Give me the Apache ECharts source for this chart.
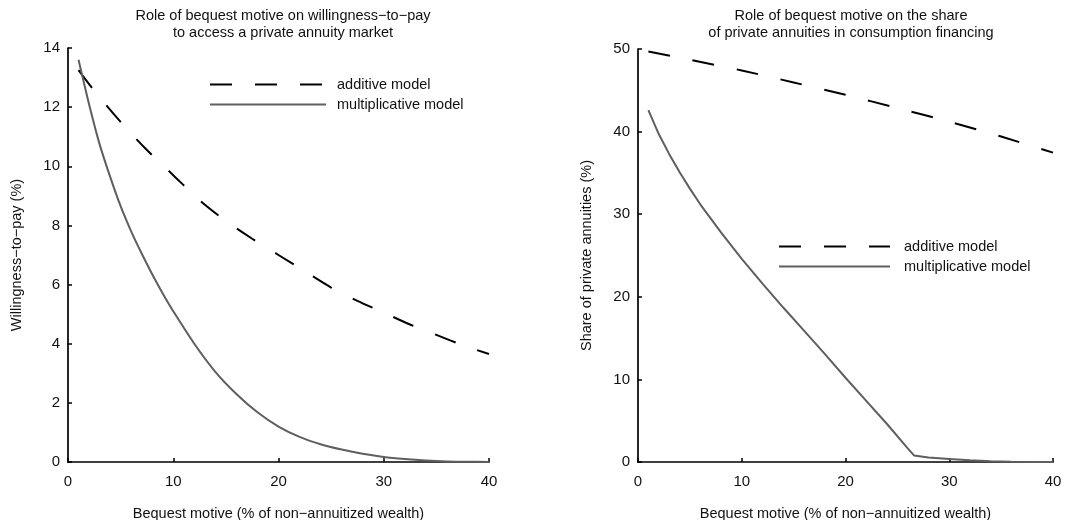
<!DOCTYPE html>
<html>
<head>
<meta charset="utf-8">
<script src="https://cdn.jsdelivr.net/npm/echarts@6/dist/echarts.min.js"></script>
<style>
html,body{margin:0;padding:0;background:#fff;}
#chart{width:1087px;height:520px;}
</style>
</head>
<body>
<div id="chart"></div>
<script>
// Left panel: willingness-to-pay (%)
var leftAddX  = [1, 2.5, 5, 7.5, 10, 12.5, 15, 17.5, 20, 22.5, 25, 27.5, 30, 32.5, 35, 37.5, 40];
var leftAddY  = [13.25, 12.55, 11.5, 10.55, 9.7, 8.85, 8.15, 7.55, 7.0, 6.45, 5.9, 5.45, 5.05, 4.65, 4.3, 3.95, 3.65];
var leftMulX  = [1, 2, 3, 4, 5, 6, 7, 8, 9, 10, 12, 14, 16, 18, 20, 22, 24, 26, 28, 30, 32, 34, 36, 38, 40];
var leftMulY  = [13.6, 12.1, 10.75, 9.65, 8.65, 7.8, 7.05, 6.35, 5.7, 5.1, 4.0, 3.05, 2.3, 1.68, 1.2, 0.85, 0.6, 0.42, 0.28, 0.17, 0.1, 0.05, 0.02, 0.01, 0];

// Right panel: share of private annuities (%)
var rightAddX = [1, 5, 10, 15, 20, 25, 30, 35, 40];
var rightAddY = [49.7, 48.7, 47.4, 45.95, 44.45, 42.85, 41.2, 39.4, 37.45];
var rightMulX = [1, 2, 3, 4, 5, 6, 7, 8, 9, 10, 12, 14, 16, 18, 20, 22, 24, 26, 26.6, 28, 30, 32, 34, 36, 38, 40];
var rightMulY = [42.6, 39.7, 37.3, 35.1, 33.1, 31.2, 29.5, 27.8, 26.2, 24.6, 21.6, 18.7, 15.9, 13.1, 10.2, 7.4, 4.6, 1.65, 0.8, 0.55, 0.35, 0.2, 0.1, 0.03, 0.01, 0];

var seriesNames = ['additive model', 'multiplicative model'];
var titles = [
  'Role of bequest motive on willingness\u2212to\u2212pay\nto access a private annuity market',
  'Role of bequest motive on the share\nof private annuities in consumption financing'
];
var xName = 'Bequest motive (% of non\u2212annuitized wealth)';
var yNames = ['Willingness\u2212to\u2212pay (%)', 'Share of private annuities (%)'];

function pairs(xs, ys) { return xs.map(function (x, i) { return [x, ys[i]]; }); }

var FONT = 'Liberation Sans, Arial, sans-serif';
var TXT = '#111';
var axisCommon = {
  axisLine: { show: true, onZero: false, lineStyle: { color: '#000', width: 1.7 } },
  axisTick: { show: true, inside: true, length: 4, lineStyle: { color: '#000', width: 1.5 } },
  axisLabel: { color: TXT, fontSize: 15, fontFamily: FONT },
  splitLine: { show: false },
  nameTextStyle: { color: TXT, fontSize: 14.5, fontFamily: FONT }
};
function ax(extra) { return Object.assign({}, JSON.parse(JSON.stringify(axisCommon)), extra); }

var addStyle = { color: '#000', width: 2, type: [22, 23] };
var mulStyle = { color: '#5f5f5f', width: 2, type: 'solid' };

var chart = echarts.init(document.getElementById('chart'), null, { renderer: 'canvas' });
chart.setOption({
  backgroundColor: '#fff',
  animation: false,
  title: [
    { text: titles[0], left: 278, top: 3, textAlign: 'center',
      textStyle: { fontSize: 14.5, fontWeight: 'normal', color: TXT, fontFamily: FONT, lineHeight: 16.5 } },
    { text: titles[1], left: 846, top: 3, textAlign: 'center',
      textStyle: { fontSize: 14.5, fontWeight: 'normal', color: TXT, fontFamily: FONT, lineHeight: 16.5 } }
  ],
  legend: [
    { data: seriesNames, orient: 'vertical', left: 204, top: 72, itemWidth: 116, itemHeight: 14, itemGap: 5,
      selectedMode: false, itemStyle: { opacity: 0 },
      textStyle: { fontSize: 14.5, color: TXT, fontFamily: FONT, padding: [0, 0, 0, 6] } },
    { data: seriesNames, orient: 'vertical', left: 773, top: 234, itemWidth: 111, itemHeight: 14, itemGap: 5,
      selectedMode: false, itemStyle: { opacity: 0 },
      textStyle: { fontSize: 14.5, color: TXT, fontFamily: FONT, padding: [0, 0, 0, 9] } }
  ],
  grid: [
    { left: 68, top: 48, width: 421, height: 414, containLabel: false, outerBoundsMode: 'none' },
    { left: 638, top: 49, width: 415, height: 413, containLabel: false, outerBoundsMode: 'none' }
  ],
  xAxis: [
    ax({ type: 'value', gridIndex: 0, min: 0, max: 40, interval: 10, name: xName, nameLocation: 'middle', nameGap: 44,
         axisLabel: { color: TXT, fontSize: 15, fontFamily: FONT, margin: 12 } }),
    ax({ type: 'value', gridIndex: 1, min: 0, max: 40, interval: 10, name: xName, nameLocation: 'middle', nameGap: 44,
         axisLabel: { color: TXT, fontSize: 15, fontFamily: FONT, margin: 12 } })
  ],
  yAxis: [
    ax({ type: 'value', gridIndex: 0, min: 0, max: 14, interval: 2, name: yNames[0], nameLocation: 'middle', nameGap: 44 }),
    ax({ type: 'value', gridIndex: 1, min: 0, max: 50, interval: 10, name: yNames[1], nameLocation: 'middle', nameGap: 44 })
  ],
  series: [
    { name: seriesNames[0], type: 'line', xAxisIndex: 0, yAxisIndex: 0, data: pairs(leftAddX, leftAddY),
      showSymbol: false, symbol: 'none', smooth: 0.3, lineStyle: addStyle, itemStyle: { color: '#000' } },
    { name: seriesNames[1], type: 'line', xAxisIndex: 0, yAxisIndex: 0, data: pairs(leftMulX, leftMulY),
      showSymbol: false, symbol: 'none', smooth: 0.3, lineStyle: mulStyle, itemStyle: { color: '#5f5f5f' } },
    { name: seriesNames[0], type: 'line', xAxisIndex: 1, yAxisIndex: 1, data: pairs(rightAddX, rightAddY),
      showSymbol: false, symbol: 'none', smooth: 0.3, lineStyle: addStyle, itemStyle: { color: '#000' } },
    { name: seriesNames[1], type: 'line', xAxisIndex: 1, yAxisIndex: 1, data: pairs(rightMulX, rightMulY),
      showSymbol: false, symbol: 'none', lineStyle: mulStyle, itemStyle: { color: '#5f5f5f' } }
  ]
});
</script>
</body>
</html>
